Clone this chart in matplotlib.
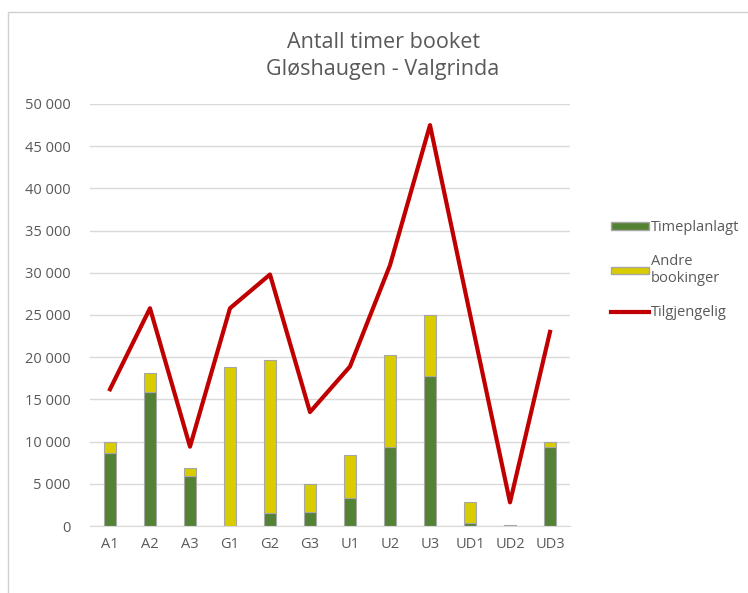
import matplotlib.pyplot as plt
import matplotlib.patches as mpatches
from matplotlib.lines import Line2D
from matplotlib.ticker import FuncFormatter

plt.rcParams['font.family'] = ['Open Sans', 'DejaVu Sans']

# data
rom = ['A1', 'A2', 'A3', 'G1', 'G2', 'G3', 'U1', 'U2', 'U3', 'UD1', 'UD2', 'UD3']
timeplanlagt = [8700, 15900, 5900, 0, 1550, 1650, 3350, 9400, 17800, 350, 0, 9400]
andre = [1200, 2200, 1000, 18850, 18150, 3300, 5050, 10850, 7250, 2450, 60, 550]
tilgjengelig = [16200, 25800, 9400, 25800, 29800, 13500, 18900, 30900, 47500, 25100, 2800, 23000]

green = '#548235'
yellow = '#d9cc00'
red = '#c00000'
edge = '#a6a6a6'
txt = '#595959'

fig = plt.figure(figsize=(7.48, 5.93), dpi=100)
# chart border (light frame on left and top)
fig.add_artist(mpatches.Rectangle((8/748, -0.05), 1.0, 1 - 12/593 + 0.05,
                                  transform=fig.transFigure, fill=False,
                                  edgecolor='#d0d0d0', linewidth=1.0))

ax = fig.add_axes([90/748, 1 - 526/593, 480/748, 422/593])
x = range(len(rom))
ax.bar(x, timeplanlagt, width=0.32, color=green, edgecolor=edge, linewidth=0.8,
       label='Timeplanlagt', zorder=2)
ax.bar(x, andre, width=0.32, bottom=timeplanlagt, color=yellow, edgecolor=edge,
       linewidth=0.8, label='Andre\nbookinger', zorder=2)
ax.plot(x, tilgjengelig, color=red, linewidth=3, label='Tilgjengelig', zorder=3)

ax.set_xlim(-0.5, len(rom) - 0.5)
ax.set_ylim(0, 50000)
ax.set_yticks(range(0, 50001, 5000))
ax.yaxis.set_major_formatter(FuncFormatter(lambda v, p: f'{int(v):,}'.replace(',', ' ')))
ax.set_xticks(list(x))
ax.set_xticklabels(rom)
ax.grid(axis='y', color='#d9d9d9', linewidth=1, zorder=0)
ax.set_axisbelow(True)
for s in ['top', 'right', 'left']:
    ax.spines[s].set_visible(False)
ax.spines['bottom'].set_color('#d9d9d9')
ax.tick_params(axis='both', length=0, colors=txt, labelsize=10.5)
ax.tick_params(axis='y', pad=14)
ax.tick_params(axis='x', pad=8)

fig.text(383/748, 1 - 42/593, 'Antall timer booket', ha='center', va='center',
         fontsize=15.5, color=txt)
fig.text(383/748, 1 - 70/593, 'Gløshaugen - Valgrinda', ha='center', va='center',
         fontsize=15.5, color=txt)

handles = [mpatches.Patch(facecolor=green, edgecolor=edge, label='Timeplanlagt'),
           mpatches.Patch(facecolor=yellow, edgecolor=edge, label='Andre\nbookinger'),
           Line2D([0], [0], color=red, linewidth=3, label='Tilgjengelig')]
leg = fig.legend(handles=handles, loc='upper left', bbox_to_anchor=(598/748, 1 - 207/593),
                 frameon=False, fontsize=10.5, labelspacing=1.3, handlelength=2.6,
                 handleheight=0.4, handletextpad=0.15)
for t in leg.get_texts():
    t.set_color(txt)

fig.savefig('out.png', dpi=100)
